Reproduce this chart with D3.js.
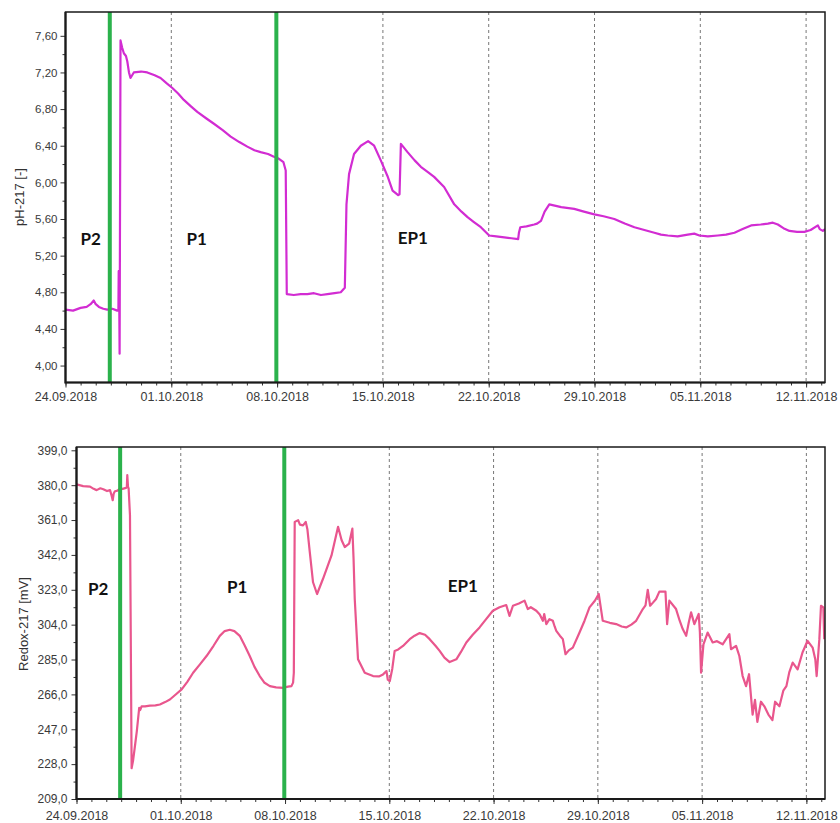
<!DOCTYPE html>
<html>
<head>
<meta charset="utf-8">
<script src="https://cdn.jsdelivr.net/npm/d3@7"></script>
<style>
  body { margin: 0; background: #fff; }
  svg { display: block; }
</style>
</head>
<body>
<div id="chart"></div>
<script>
const startDate = Date.UTC(2018, 8, 24);
const dayMs = 864e5;
const endDay = 50.25;

// [days since 24.09.2018, value]
const phPoints = [
  [0, 4.61], [0.5, 4.60], [1.0, 4.63], [1.4, 4.64], [1.66, 4.67], [1.87, 4.71], [2.0, 4.67],
  [2.21, 4.64], [2.5, 4.62], [2.76, 4.61], [3.1, 4.62], [3.42, 4.60], [3.50, 4.60], [3.52, 5.03],
  [3.56, 4.60], [3.58, 4.13], [3.64, 7.55], [3.75, 7.47], [3.86, 7.41], [4.0, 7.38], [4.09, 7.32],
  [4.2, 7.2], [4.30, 7.14], [4.52, 7.20], [5.0, 7.21], [5.41, 7.20], [5.9, 7.17], [6.29, 7.14],
  [6.7, 7.08], [7.07, 7.03], [7.45, 6.97], [7.83, 6.90], [8.3, 6.83], [8.72, 6.77], [9.3, 6.70],
  [9.82, 6.64], [10.4, 6.57], [10.93, 6.50], [11.5, 6.44], [12.03, 6.39], [12.5, 6.35],
  [12.91, 6.33], [13.4, 6.31], [13.79, 6.28], [14.1, 6.26], [14.42, 6.22], [14.57, 6.13],
  [14.64, 4.78], [15.1, 4.77], [15.56, 4.78], [16.0, 4.78], [16.44, 4.79], [16.9, 4.77],
  [17.33, 4.78], [17.8, 4.79], [18.21, 4.80], [18.48, 4.85], [18.59, 5.76], [18.76, 6.09],
  [19.09, 6.31], [19.54, 6.40], [20.02, 6.45], [20.42, 6.40], [20.86, 6.24], [21.30, 6.07],
  [21.64, 5.91], [22.01, 5.86], [22.10, 5.87], [22.19, 6.42], [22.63, 6.33], [23.1, 6.24],
  [23.51, 6.17], [24.0, 6.11], [24.39, 6.06], [25.05, 5.95], [25.72, 5.76], [26.2, 5.68],
  [26.60, 5.62], [27.0, 5.57], [27.48, 5.51], [28.03, 5.42], [28.5, 5.41], [29.03, 5.40],
  [29.5, 5.39], [29.95, 5.38], [30.0, 5.45], [30.09, 5.51], [30.5, 5.52], [31.01, 5.54],
  [31.2, 5.55], [31.46, 5.58], [31.7, 5.68], [32.01, 5.76], [32.8, 5.73], [33.66, 5.71],
  [34.3, 5.68], [34.99, 5.65], [35.6, 5.63], [36.31, 5.60], [37.0, 5.55], [37.64, 5.51],
  [38.3, 5.48], [38.96, 5.45], [39.4, 5.43], [39.85, 5.42], [40.5, 5.41], [41.17, 5.43],
  [41.6, 5.44], [41.94, 5.42], [42.5, 5.41], [43.16, 5.42], [43.7, 5.43], [44.26, 5.45],
  [44.8, 5.49], [45.36, 5.53], [46.0, 5.54], [46.47, 5.55], [46.8, 5.56], [47.13, 5.54],
  [47.5, 5.50], [47.90, 5.47], [48.4, 5.46], [48.89, 5.46], [49.3, 5.48], [49.78, 5.53],
  [49.9, 5.49], [50.11, 5.47], [50.25, 5.49],
];

const redoxPoints = [
  [0, 380.4], [0.45, 379.5], [0.91, 379.2], [1.15, 378.0], [1.35, 377.3], [1.6, 378.3],
  [1.80, 377.8], [2.05, 376.8], [2.25, 377.3], [2.35, 374.5], [2.43, 371.8], [2.5, 375.5],
  [2.58, 376.7], [2.75, 377.0], [2.92, 378.2], [3.1, 378.0], [3.32, 378.5], [3.38, 379],
  [3.41, 385.5], [3.46, 379], [3.50, 378.2], [3.59, 363.6], [3.70, 225.8], [3.80, 230],
  [3.92, 237.6], [4.05, 246], [4.21, 258.7], [4.28, 257.5], [4.37, 259.5], [4.6, 259.5],
  [4.93, 259.9], [5.3, 260.0], [5.60, 260.5], [5.95, 261.8], [6.27, 263.2], [6.7, 266.2],
  [7.06, 268.7], [7.45, 273], [7.83, 277.8], [8.3, 282.5], [8.73, 286.9], [9.2, 292.5],
  [9.62, 297.9], [9.95, 300.5], [10.29, 301.2], [10.6, 300.5], [10.96, 297.9], [11.3, 292.5],
  [11.63, 286.9], [11.95, 281], [12.30, 276.0], [12.6, 272.5], [12.98, 270.5], [13.4, 269.8],
  [13.87, 269.6], [14.2, 270.2], [14.43, 270.5], [14.54, 272.4], [14.59, 277.8], [14.65, 360.0],
  [14.88, 360.9], [15.0, 358.5], [15.21, 358.1], [15.39, 360.0], [15.5, 356], [15.66, 343.6],
  [15.88, 327.1], [16.15, 320.7], [16.55, 329.0], [17.12, 341.7], [17.56, 357.3], [17.8, 350],
  [18.01, 346.3], [18.30, 348.1], [18.52, 356.3], [18.60, 340], [18.68, 318.0], [18.90, 285.1],
  [19.35, 277.8], [19.91, 276.0], [20.3, 275.8], [20.58, 276.9], [20.81, 278.7], [20.9, 274],
  [21.03, 273.2], [21.2, 280], [21.36, 289.7], [21.6, 290.5], [21.92, 292.4], [22.37, 296.1],
  [22.7, 298], [23.04, 299.4], [23.4, 298.5], [23.71, 296.1], [24.1, 292.5], [24.38, 289.7],
  [24.7, 286], [25.05, 283.6], [25.50, 285.1], [25.8, 289], [26.17, 294.3], [26.6, 298.5],
  [27.06, 302.5], [27.5, 307], [27.95, 311.6], [28.4, 313.5], [28.85, 314.7], [29.07, 308.8],
  [29.30, 314.3], [29.7, 315.5], [30.08, 317.1], [30.30, 312.5], [30.5, 313.5], [30.87, 311.6],
  [31.1, 309.5], [31.31, 306.1], [31.4, 309.8], [31.54, 304.3], [31.75, 307], [31.98, 306.1],
  [32.1, 303], [32.21, 300.6], [32.45, 298], [32.65, 296.1], [32.83, 287.9], [33.05, 290],
  [33.32, 291.5], [33.77, 299.7], [34.1, 306], [34.44, 313.4], [34.8, 317], [35.06, 320.7],
  [35.33, 306.1], [35.8, 305], [36.23, 304.3], [36.6, 303], [36.90, 302.5], [37.25, 304],
  [37.57, 306.1], [38.02, 312.5], [38.2, 314.5], [38.35, 323.0], [38.51, 314.3], [38.7, 316],
  [38.91, 318.0], [39.13, 322.0], [39.54, 322.0], [39.65, 304.3], [39.80, 317.1], [40.25, 312.5],
  [40.5, 306], [40.70, 301.6], [40.93, 297.9], [41.1, 305], [41.26, 310.7], [41.48, 304.3],
  [41.77, 309.8], [41.85, 300], [41.93, 277.8], [42.09, 293.3], [42.37, 299.7], [42.71, 294.3],
  [43.0, 295], [43.38, 293.3], [43.6, 296], [43.83, 298.8], [43.94, 290.6], [44.28, 292.4],
  [44.50, 286.9], [44.72, 276.0], [44.95, 270.5], [45.15, 277], [45.39, 255], [45.55, 263],
  [45.71, 251], [45.95, 262], [46.18, 259.5], [46.45, 255], [46.72, 252], [46.9, 262],
  [47.19, 259.5], [47.45, 268], [47.66, 270.5], [47.85, 278], [48.08, 283.3], [48.41, 279.6],
  [48.74, 288.8], [49.08, 295.2], [49.42, 291.5], [49.6, 285], [49.69, 276.0], [49.87, 296.1],
  [49.98, 314.3], [50.14, 313.4], [50.2, 296],
];

const phTicks = [4.0, 4.4, 4.8, 5.2, 5.6, 6.0, 6.4, 6.8, 7.2, 7.6];
const redoxTicks = [209, 228, 247, 266, 285, 304, 323, 342, 361, 380, 399];
const dateTicks = ['2018-09-24', '2018-10-01', '2018-10-08', '2018-10-15',
  '2018-10-22', '2018-10-29', '2018-11-05', '2018-11-12'];
const phaseLines = [2.93, 13.95];
const phLabels = [['P2', 1.67, 5.38], ['P1', 8.68, 5.38], ['EP1', 22.98, 5.39]];
const redoxLabels = [['P2', 1.46, 323.5], ['P1', 10.78, 324.4], ['EP1', 25.94, 324.9]];

const toDate = d => new Date(startDate + d * dayMs);
const comma = f => v => d3.format(f)(v).replace('.', ',');
const sans = '"Liberation Sans", Arial, sans-serif';

const svg = d3.select('#chart').append('svg')
  .attr('width', 840)
  .attr('height', 823);

function drawPanel(cfg) {
  const x = d3.scaleUtc()
    .domain([toDate(0), toDate(endDay)])
    .range([cfg.left, cfg.right]);
  const y = d3.scaleLinear()
    .domain(cfg.yDomain)
    .range([cfg.bottom, cfg.top]);

  const g = svg.append('g').attr('class', cfg.name);

  g.append('clipPath')
    .attr('id', `clip-${cfg.name}`)
    .append('rect')
    .attr('x', cfg.left)
    .attr('y', cfg.top)
    .attr('width', cfg.right - cfg.left)
    .attr('height', cfg.bottom - cfg.top);

  // weekly dashed grid
  g.selectAll('.grid')
    .data(dateTicks.slice(1))
    .enter().append('line')
    .attr('class', 'grid')
    .attr('x1', d => x(new Date(d)))
    .attr('x2', d => x(new Date(d)))
    .attr('y1', cfg.top)
    .attr('y2', cfg.bottom)
    .attr('stroke', '#777')
    .attr('stroke-width', 1)
    .attr('stroke-dasharray', '3,3');

  // minor ticks
  const minorY = cfg.ticks.slice(0, -1).map((t, i) => (t + cfg.ticks[i + 1]) / 2);
  g.append('g')
    .attr('transform', `translate(${cfg.left},0)`)
    .call(d3.axisLeft(y).tickValues(minorY).tickSize(3).tickFormat(''))
    .call(s => s.select('.domain').remove());
  g.append('g')
    .attr('transform', `translate(0,${cfg.bottom})`)
    .call(d3.axisBottom(x).ticks(d3.utcDay).tickSize(3).tickFormat(''))
    .call(s => s.select('.domain').remove());

  const yAxis = g.append('g')
    .attr('transform', `translate(${cfg.left},0)`)
    .call(d3.axisLeft(y).tickValues(cfg.ticks).tickSize(5).tickPadding(cfg.yPad)
      .tickFormat(comma(cfg.fmt)));
  yAxis.select('.domain').remove();
  yAxis.selectAll('text').attr('font-size', cfg.ySize);

  const xAxis = g.append('g')
    .attr('transform', `translate(0,${cfg.bottom})`)
    .call(d3.axisBottom(x).tickValues(dateTicks.map(d => new Date(d)))
      .tickSize(5).tickPadding(cfg.xPad).tickFormat(d3.utcFormat('%d.%m.%Y')));
  xAxis.select('.domain').remove();
  xAxis.selectAll('text').attr('font-size', '12.5px');

  g.selectAll('.tick line').attr('stroke', '#333');
  g.selectAll('.tick text')
    .attr('fill', '#3a3a3a')
    .attr('font-family', sans);

  g.append('path')
    .datum(cfg.data)
    .attr('clip-path', `url(#clip-${cfg.name})`)
    .attr('fill', 'none')
    .attr('stroke', cfg.color)
    .attr('stroke-width', 2.2)
    .attr('stroke-linejoin', 'round')
    .attr('d', d3.line().x(d => x(toDate(d[0]))).y(d => y(d[1])));

  g.selectAll('.phase')
    .data(phaseLines)
    .enter().append('line')
    .attr('class', 'phase')
    .attr('x1', d => x(toDate(d)))
    .attr('x2', d => x(toDate(d)))
    .attr('y1', cfg.top)
    .attr('y2', cfg.bottom)
    .attr('stroke', '#2bb24c')
    .attr('stroke-width', 4);

  g.selectAll('.phase-label')
    .data(cfg.labels)
    .enter().append('text')
    .attr('class', 'phase-label')
    .attr('x', d => x(toDate(d[1])))
    .attr('y', d => y(d[2]))
    .attr('dy', '0.35em')
    .attr('text-anchor', 'middle')
    .attr('font-family', 'Lato, "Open Sans", sans-serif')
    .attr('font-weight', 'bold')
    .attr('font-size', '17px')
    .attr('fill', '#111')
    .text(d => d[0]);

  g.append('rect')
    .attr('x', cfg.left)
    .attr('y', cfg.top)
    .attr('width', cfg.right - cfg.left)
    .attr('height', cfg.bottom - cfg.top)
    .attr('fill', 'none')
    .attr('stroke', '#1a1a1a')
    .attr('stroke-width', 1.5);

  g.append('path')
    .attr('d', `M${cfg.left},${cfg.top}V${cfg.bottom}H${cfg.right}`)
    .attr('fill', 'none')
    .attr('stroke', '#1a1a1a')
    .attr('stroke-width', 2.2);

  g.append('text')
    .attr('transform', `translate(${cfg.titleX},${cfg.titleY}) rotate(-90)`)
    .attr('text-anchor', 'middle')
    .attr('font-family', sans)
    .attr('font-size', '13px')
    .attr('fill', '#333')
    .text(cfg.title);
}

drawPanel({
  name: 'ph', data: phPoints, color: '#d22cd2', labels: phLabels,
  left: 65.5, right: 825, top: 12, bottom: 382.5,
  yDomain: [3.815, 7.86], ticks: phTicks, fmt: '.2f', yPad: 3, xPad: 5, ySize: '11.5px',
  title: 'pH-217 [-]', titleX: 24, titleY: 197,
});

drawPanel({
  name: 'redox', data: redoxPoints, color: '#e9568d', labels: redoxLabels,
  left: 76.5, right: 825, top: 447, bottom: 799,
  yDomain: [209, 400.8], ticks: redoxTicks, fmt: '.1f', yPad: 4, xPad: 7, ySize: '12px',
  title: 'Redox-217 [mV]', titleX: 28, titleY: 624,
});
</script>
</body>
</html>
